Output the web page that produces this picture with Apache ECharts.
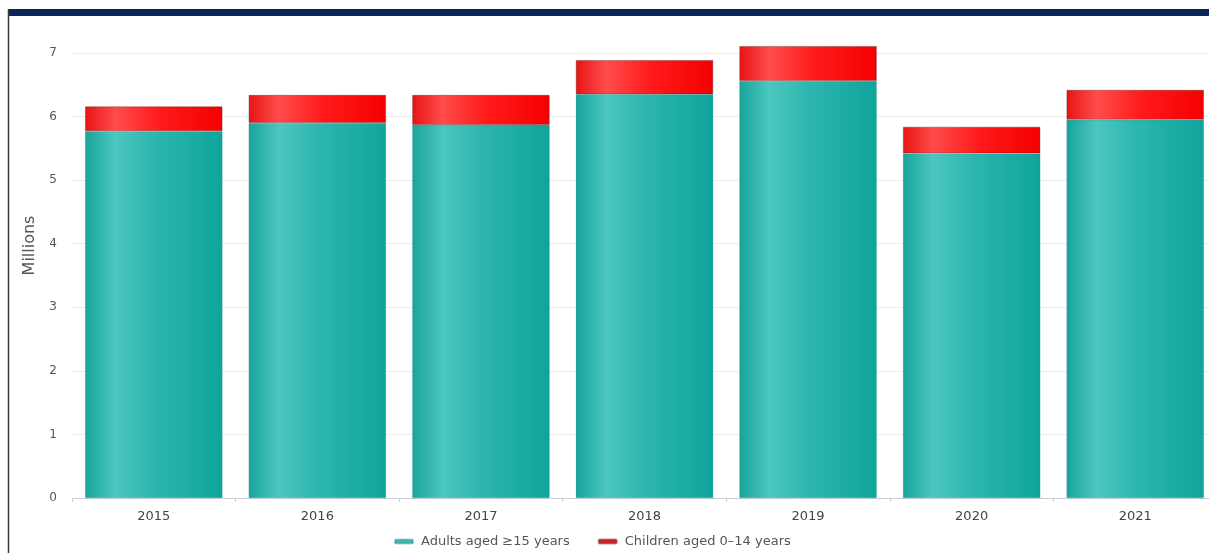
<!DOCTYPE html>
<html>
<head>
<meta charset="utf-8">
<script src="https://cdn.jsdelivr.net/npm/echarts@6/dist/echarts.min.js"></script>
<style>
html,body{margin:0;padding:0;background:#fff;}
#chart{width:1209px;height:553px;}
</style>
</head>
<body>
<div id="chart"></div>
<script>
const years = ['2015','2016','2017','2018','2019','2020','2021'];
const adults = [5.77, 5.90, 5.87, 6.35, 6.56, 5.42, 5.95];
const children = [0.39, 0.44, 0.47, 0.54, 0.55, 0.42, 0.47];
const seriesNames = ['Adults aged \u226515 years', 'Children aged 0\u201314 years'];
const yTicks = [0, 1, 2, 3, 4, 5, 6, 7];

const FONT = 'DejaVu Sans, Verdana, sans-serif';
const chart = echarts.init(document.getElementById('chart'), null, {renderer: 'canvas'});

const tealGrad = {type:'linear', x:0, y:0, x2:1, y2:0, colorStops:[
  {offset:0, color:'#17a49c'}, {offset:0.22, color:'#4cc6c0'}, {offset:0.5, color:'#2db6af'}, {offset:1, color:'#0fa49b'}
]};
const redGrad = {type:'linear', x:0, y:0, x2:1, y2:0, colorStops:[
  {offset:0, color:'#e81414'}, {offset:0.22, color:'#ff4c4c'}, {offset:0.55, color:'#ff1a1a'}, {offset:1, color:'#f50000'}
]};

chart.setOption({
  animation: false,
  graphic: [
    {type:'rect', shape:{x:9, y:9, width:1200, height:7}, style:{fill:'#0d2556'}, z:10},
    {type:'line', shape:{x1:8.5, y1:9, x2:8.5, y2:553}, style:{stroke:'#3a3a3a', lineWidth:1.5}, z:10}
  ],
  grid: {left:72, width:1145, top:53, bottom:55, containLabel:false, outerBoundsMode:'none'},
  legend: {
    bottom: 0,
    left: 389,
    itemGap: 28,
    itemWidth: 18,
    itemHeight: 4,
    icon: 'roundRect',
    textStyle: {fontFamily: FONT, fontSize: 13, color:'#555', padding:[0,0,0,3]},
    data: [
      {name: seriesNames[0], itemStyle:{color:'#3dbcb5'}},
      {name: seriesNames[1], itemStyle:{color:'#ee1c25'}}
    ]
  },
  xAxis: {
    type: 'category',
    data: years,
    axisLine: {lineStyle:{color:'#c8ccd4', width:1}},
    axisTick: {show:true, length:4, lineStyle:{color:'#c8ccd4'}},
    axisLabel: {fontFamily: FONT, fontSize:13, color:'#444', margin:12}
  },
  yAxis: {
    type: 'value',
    min: 0, max: 7, interval: 1,
    name: 'Millions',
    nameLocation: 'middle',
    nameGap: 34,
    nameTextStyle: {fontFamily: FONT, fontSize:16, color:'#555', padding:[0,0,0,60]},
    axisLine: {show:false},
    axisTick: {show:false},
    axisLabel: {fontFamily: FONT, fontSize:12, color:'#555', margin:15,
      formatter: v => yTicks.includes(v) ? String(v) : ''},
    splitLine: {lineStyle:{color:'#ececec', width:1}}
  },
  series: [
    {
      name: seriesNames[0], type: 'bar', stack: 'total', data: adults,
      barCategoryGap: '16%', clip: false,
      itemStyle: {color: tealGrad, borderColor:'rgba(20,120,115,0.35)', borderWidth:0.5}
    },
    {
      name: seriesNames[1], type: 'bar', stack: 'total', data: children,
      barCategoryGap: '16%', clip: false,
      itemStyle: {color: redGrad, borderColor:'rgba(80,30,30,0.45)', borderWidth:0.8}
    }
  ]
});
</script>
</body>
</html>
